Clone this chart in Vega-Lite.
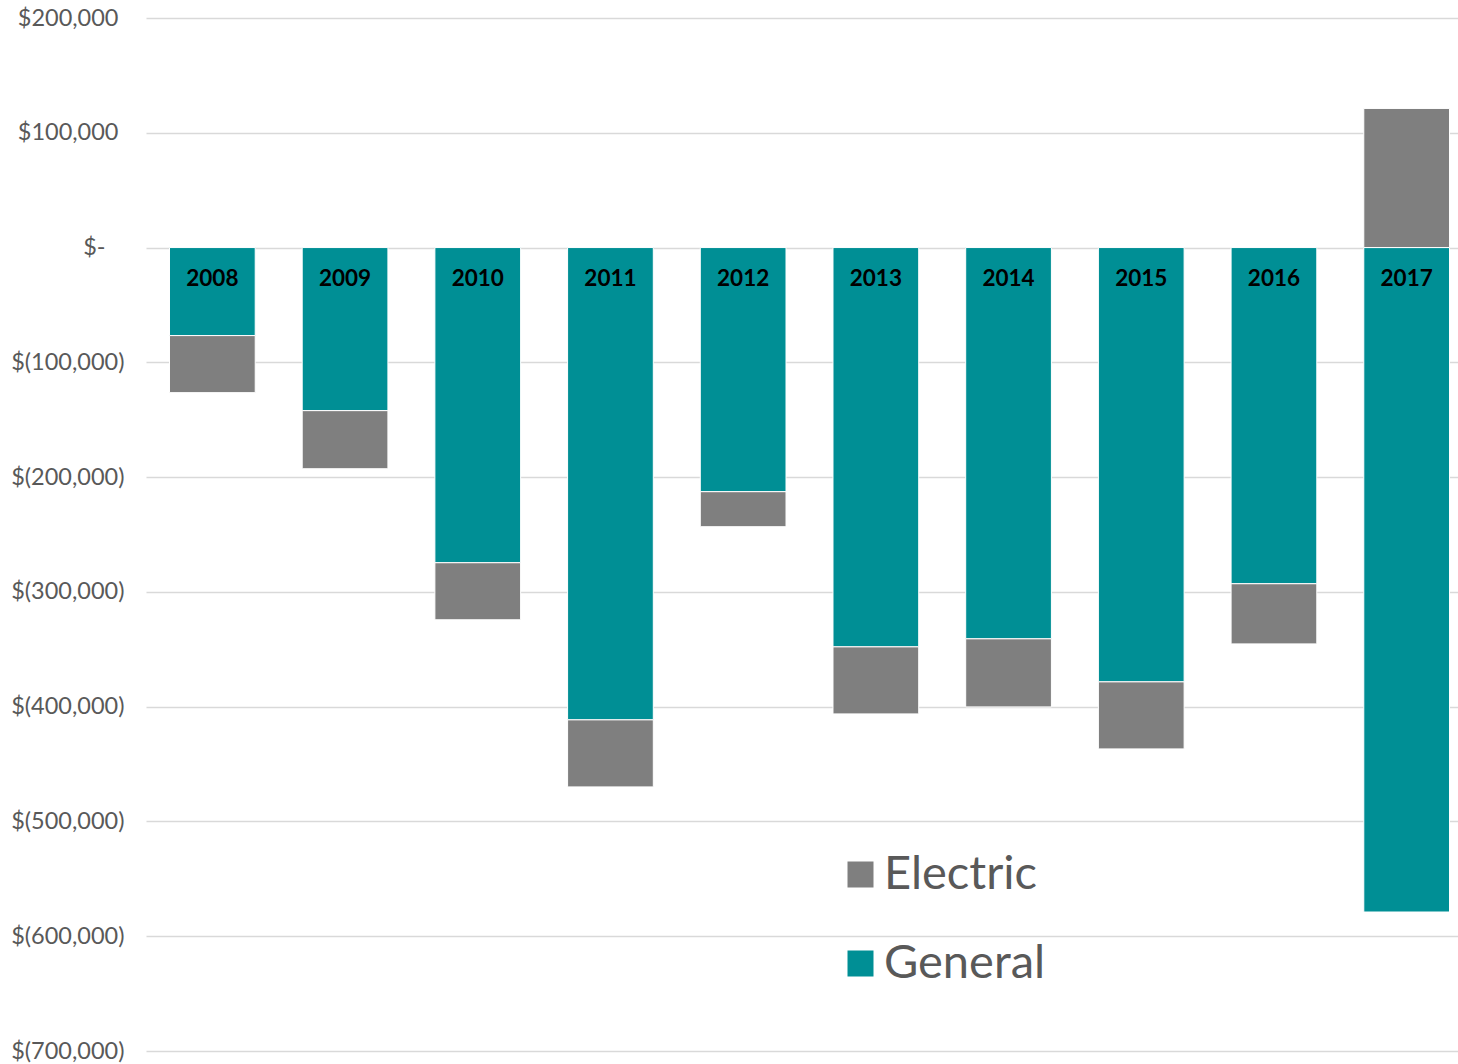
{
  "$schema": "https://vega.github.io/schema/vega-lite/v6.json",
  "autosize": {"type": "none"},
  "padding": {"left": 146, "top": 18, "right": 0, "bottom": 13},
  "width": 1312,
  "height": 1033,
  "background": "#ffffff",
  "config": {
    "view": {"stroke": null},
    "font": "Lato"
  },
  "data": {
    "values": [
      {"year": "2008", "type": "General", "amount": -76700},
      {"year": "2008", "type": "Electric", "amount": -49700},
      {"year": "2009", "type": "General", "amount": -142100},
      {"year": "2009", "type": "Electric", "amount": -50600},
      {"year": "2010", "type": "General", "amount": -274600},
      {"year": "2010", "type": "Electric", "amount": -49700},
      {"year": "2011", "type": "General", "amount": -411500},
      {"year": "2011", "type": "Electric", "amount": -58400},
      {"year": "2012", "type": "General", "amount": -212700},
      {"year": "2012", "type": "Electric", "amount": -30500},
      {"year": "2013", "type": "General", "amount": -347900},
      {"year": "2013", "type": "Electric", "amount": -58400},
      {"year": "2014", "type": "General", "amount": -340900},
      {"year": "2014", "type": "Electric", "amount": -59300},
      {"year": "2015", "type": "General", "amount": -378400},
      {"year": "2015", "type": "Electric", "amount": -58400},
      {"year": "2016", "type": "General", "amount": -292900},
      {"year": "2016", "type": "Electric", "amount": -52400},
      {"year": "2017", "type": "General", "amount": -578900},
      {"year": "2017", "type": "Electric", "amount": 121200}
    ]
  },
  "encoding": {
    "x": {
      "field": "year",
      "type": "nominal",
      "axis": null,
      "scale": {"range": [0, 1327], "paddingInner": 0.354, "paddingOuter": 0.177}
    }
  },
  "layer": [
    {
      "mark": {"type": "bar", "stroke": "#ffffff", "strokeWidth": 1},
      "encoding": {
        "y": {
          "field": "amount",
          "type": "quantitative",
          "stack": "zero",
          "scale": {"domain": [-700000, 200000], "nice": false},
          "axis": {
            "title": null,
            "values": [200000, 100000, 0, -100000, -200000, -300000, -400000, -500000, -600000, -700000],
            "domain": false,
            "ticks": false,
            "labelPadding": {
              "condition": [
                {"test": "datum.value > 0", "value": 28},
                {"test": "datum.value == 0", "value": 41}
              ],
              "value": 22
            },
            "labelFont": "Lato",
            "labelFontSize": 23.5,
            "labelColor": "#595959",
            "gridColor": "#d9d9d9",
            "gridWidth": 1.5,
            "labelExpr": "datum.value > 0 ? '$' + format(datum.value, ',') : (datum.value < 0 ? '$(' + format(-datum.value, ',') + ')' : '$-')"
          }
        },
        "color": {
          "field": "type",
          "type": "nominal",
          "scale": {"domain": ["Electric", "General"], "range": ["#7f7f7f", "#008f95"]},
          "legend": {
            "title": null,
            "orient": "none",
            "legendX": 691,
            "legendY": 833,
            "symbolType": "square",
            "symbolSize": 676,
            "symbolStrokeWidth": 0,
            "symbolOpacity": 1,
            "labelFont": "Lato",
            "labelFontSize": 47,
            "labelColor": "#595959",
            "labelOffset": 0,
            "rowPadding": 41,
            "labelLimit": 400
          }
        },
        "order": {"field": "type", "sort": "descending"}
      }
    },
    {
      "transform": [{"filter": "datum.type == 'General'"}],
      "mark": {
        "type": "text",
        "font": "Lato",
        "fontWeight": "bold",
        "fontSize": 22.5,
        "color": "#000000",
        "baseline": "middle",
        "align": "center",
        "dy": 31
      },
      "encoding": {
        "y": {"datum": 0, "type": "quantitative"},
        "text": {"field": "year"}
      }
    }
  ]
}
